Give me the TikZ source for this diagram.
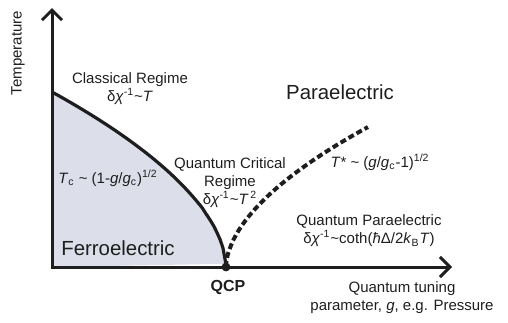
\documentclass[tikz,border=0pt]{standalone}
\usepackage{fontspec}
\setmainfont{Liberation Sans}
\usetikzlibrary{arrows.meta,positioning}

\definecolor{ink}{RGB}{30,30,30}
\definecolor{ferrofill}{RGB}{220,223,234}
\newcommand{\dchi}{δ\textit{χ}\textsuperscript{-1}\textasciitilde}

\begin{document}
\begin{tikzpicture}[x=0.5pt,y=-0.5pt,
    txt/.style={text=ink, font=\fontsize{7.5}{9}\selectfont, align=center, inner sep=0pt},
    phase/.style={text=ink, font=\fontsize{10.2}{12}\selectfont, inner sep=0pt},
    axis/.style={draw=ink, line width=1.5pt, {Straight Barb[length=5pt,width=10pt,line width=1.5pt]}-{Straight Barb[length=5pt,width=10pt,line width=1.5pt]}},
    boundary/.style={draw=ink, line width=1.6pt},
    crossover/.style={draw=ink, line width=2pt, dash pattern=on 3pt off 1.6pt}]
    \useasboundingbox (0,0) rectangle (508,322);

    % Coordinates
    \coordinate (ytip) at (52,8);
    \coordinate (O) at (52,267);
    \coordinate (xtip) at (452,267);
    \coordinate (qcp) at (226,267);

    % Ferroelectric region
    \fill[ferrofill] (O) -- plot[domain=0:1,samples=60] ({52+174*\x},{267-175*(1-\x)^0.55}) -- cycle;
    \draw[boundary] plot[domain=0:1,samples=60] ({52+174*\x},{267-175*(1-\x)^0.55});
    \draw[crossover] plot[domain=0:1,samples=40] ({226+142*\x^1.8},{267-140*\x});

    % Axes
    \draw[axis] (ytip) -- (O) -- (xtip);
    \fill[ink] (qcp) circle (2.2pt);

    % Labels
    \node[txt, rotate=90] (temp) at (18,53) {Temperature};
    \node[txt] (classical) at (130,89) {Classical Regime\\ \dchi\textit{T}};
    \node[txt] (tc) at (108,178) {\textit{T}\textsubscript{c} \textasciitilde\ (1-\textit{g}/\textit{g}\textsubscript{c})\textsuperscript{1/2}};
    \node[phase] (ferro) at (118,248) {Ferroelectric};
    \node[txt] (qcr) at (230,183) {Quantum Critical\\ Regime\\ \dchi\textit{T}\textsuperscript{\,2}};
    \node[phase] (para) at (340,92) {Paraelectric};
    \node[txt] (tstar) at (380,162) {\textit{T}* \textasciitilde\ (\textit{g}/\textit{g}\textsubscript{c}-1)\textsuperscript{1/2}};
    \node[txt] (qpara) at (369,231) {Quantum Paraelectric\\ \dchi coth(\textit{ħ}Δ/2\textit{k}\textsubscript{B}\textit{T})};
    \node[txt, font=\fontsize{8}{9}\selectfont\bfseries] (qcplabel) at (228,287) {QCP};
    \node[txt] (tuning) at (402,298) {Quantum tuning\\ parameter, \textit{g}, e.g. Pressure};
\end{tikzpicture}
\end{document}
